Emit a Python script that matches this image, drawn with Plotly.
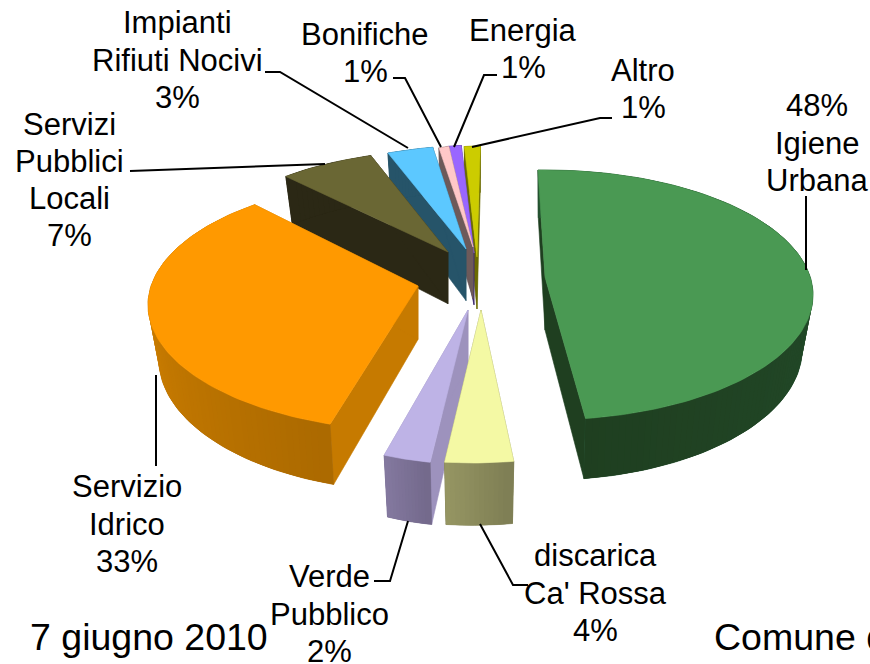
import math
import plotly.graph_objects as go

categories = ["Igiene Urbana", "discarica Ca' Rossa", "Verde Pubblico", "Servizio Idrico",
              "Servizi Pubblici Locali", "Impianti Rifiuti Nocivi", "Bonifiche", "Energia", "Altro"]
values = [48, 4, 2, 33, 7, 3, 1, 1, 1]

top_colors = ["#4a9953", "#f4f9a4", "#beb3e6", "#ff9900", "#6a6734", "#5cc8ff", "#ffc8c8", "#9966ff", "#cccc00"]
side_colors = ["#1f3f20", "#8a8a5c", "#9d92bd", "#c67a00", "#2b2815", "#265469", "#6d5a5a", "#3f2d70", "#6b6b00"]
arc_from = [(36, 82, 48), (127, 127, 85), (116, 106, 140), (172, 106, 0), (43, 40, 21), (38, 84, 105), (109, 90, 90), (63, 45, 112), (107, 107, 0)]
arc_to = [(31, 63, 32), (151, 151, 99), (132, 121, 160), (228, 140, 0), (43, 40, 21), (38, 84, 105), (109, 90, 90), (63, 45, 112), (107, 107, 0)]

# Projection of each exploded slice: apex, ellipse centre, radii, angle fit
apex = [(545, 277), (481, 310), (468, 310), (418, 286), (448, 252), (466, 249), (473, 247), (474, 253), (477, 257)]
ell_c = [(545, 295), (472, 313), (467, 114), (418, 305), (465, 231), (486, 245), (473, 270), (481, 270), (487, 276)]
radii = [(268, 125), (276, 150), (371, 350), (270, 126), (240, 82), (250, 100), (160, 125), (222, 125), (255, 130)]
ang_shift = [0, 0, 0, 6.1, 0, 0, 0, 0, 0]
ang_stretch = [1, 1, 1, 1.042, 1, 1, 1, 1, 1]
start_angle = -1.5
shrink = 0.96
draw_order = [8, 7, 6, 5, 4, 3, 0, 2, 1]

label_lines = [["48%", "Igiene", "Urbana"], ["discarica", "Ca' Rossa", "4%"], ["Verde", "Pubblico", "2%"],
               ["Servizio", "Idrico", "33%"], ["Servizi", "Pubblici", "Locali", "7%"],
               ["Impianti", "Rifiuti Nocivi", "3%"], ["Bonifiche", "1%"], ["Energia", "1%"], ["Altro", "1%"]]
label_pos = [(817, 143), (595, 593), (329, 614), (127, 524), (69, 180), (177, 60), (365, 53), (523, 49), (643, 89)]
line_gap = 37.3
leaders = [
    [(806, 196), (806, 270)],
    [(480, 524), (513, 585), (528, 585)],
    [(408, 521), (390, 581), (374, 581)],
    [(156, 375), (156, 466)],
    [(130, 171), (325, 164)],
    [(265, 72), (280, 72), (408, 148)],
    [(393, 78), (405, 78), (441, 147)],
    [(497, 75), (484, 75), (454, 147)],
    [(612, 118), (600, 118), (472, 147)],
]
footer_left = "7 giugno 2010"
footer_right = "Comune di"

fig = go.Figure()


def poly(pts, color, lw=0.0):
    fig.add_trace(go.Scatter(
        x=[p[0] for p in pts] + [pts[0][0]], y=[p[1] for p in pts] + [pts[0][1]],
        mode="lines", fill="toself", fillcolor=color, line=dict(color=color, width=lw),
        hoverinfo="skip", showlegend=False))


def depth(y):
    return 53 + 0.05 * (y - 277)


total = sum(values)
cum = [sum(values[:i]) for i in range(len(values))]

for i in draw_order:
    a0 = start_angle + 360 * cum[i] / total + ang_shift[i]
    sweep = 360 * values[i] / total * ang_stretch[i]
    n = max(14, int(sweep / 1.5))
    ax, ay = apex[i]
    ex, ey = ell_c[i]
    rx, ry = radii[i]

    arc = []
    for k in range(n + 1):
        t = math.radians(a0 + sweep * k / n)
        arc.append((ex + rx * math.sin(t), ey - ry * math.cos(t)))

    def low(p):
        return (ax + shrink * (p[0] - ax), p[1] + depth(p[1]))

    # radial walls
    poly([(ax, ay), arc[0], low(arc[0]), low((ax, ay))], side_colors[i], 0.6)
    poly([(ax, ay), arc[-1], low(arc[-1]), low((ax, ay))], side_colors[i], 0.6)
    # curved outer wall: base, then overlapping shaded strips painted from far to near
    poly(arc + [low(p) for p in reversed(arc)], "rgb(%d,%d,%d)" % arc_from[i], 0.6)
    for k in range(n - 1, -1, -1):
        f = k / max(1, n - 1)
        c = tuple(round(arc_from[i][j] + (arc_to[i][j] - arc_from[i][j]) * f) for j in range(3))
        end = min(n, k + 2)
        poly([arc[k], arc[end], low(arc[end]), low(arc[k])], "rgb(%d,%d,%d)" % c)
    # top face
    poly([(ax, ay)] + arc, top_colors[i], 0.6)

for path in leaders:
    fig.add_trace(go.Scatter(x=[p[0] for p in path], y=[p[1] for p in path], mode="lines",
                             line=dict(color="black", width=2), hoverinfo="skip", showlegend=False))

font = dict(family="Liberation Sans, Arial, sans-serif", color="black")
ann = []
for lines, (x, y) in zip(label_lines, label_pos):
    for j, txt in enumerate(lines):
        ann.append(dict(x=x, y=y + (j - (len(lines) - 1) / 2) * line_gap, xref="x", yref="y", text=txt,
                        showarrow=False, xanchor="center", yanchor="middle", font=dict(size=31, **font)))
for txt, x in ((footer_left, 28), (footer_right, 712)):
    ann.append(dict(x=x, y=637, xref="x", yref="y", text=txt, showarrow=False, xanchor="left", yanchor="middle",
                    font=dict(size=37.5, **font)))

fig.update_layout(
    width=870, height=664, margin=dict(l=0, r=0, t=0, b=0), paper_bgcolor="white", plot_bgcolor="white",
    xaxis=dict(range=[0, 870], visible=False, fixedrange=True),
    yaxis=dict(range=[664, 0], visible=False, fixedrange=True),
    annotations=ann, showlegend=False)
fig.write_html("out.html", config=dict(displayModeBar=False),
               post_script="document.body.style.margin='0';document.body.style.overflow='hidden';")
